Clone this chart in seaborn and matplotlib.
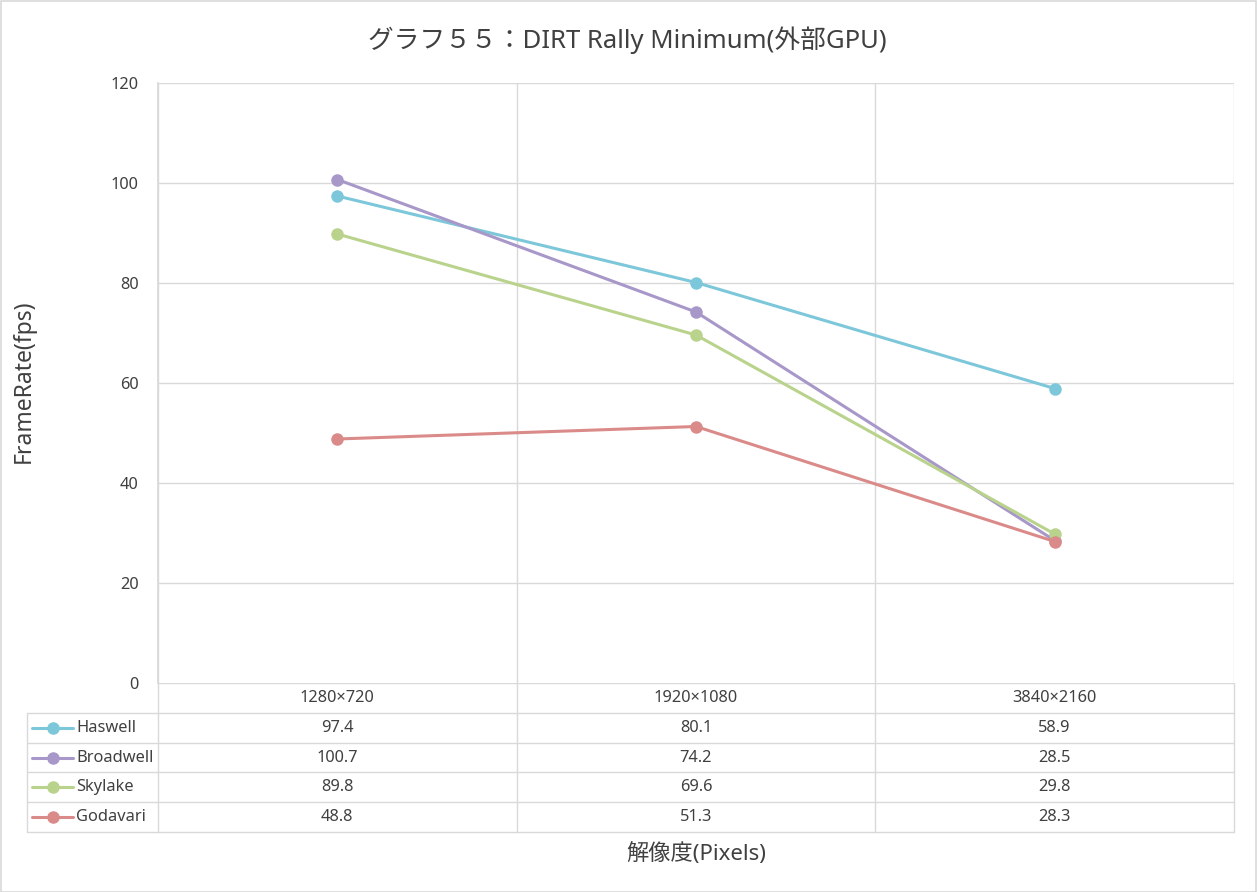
import pandas as pd
import seaborn as sns
import matplotlib.pyplot as plt
from matplotlib.patches import Rectangle

# chart data
resolutions = ['1280×720', '1920×1080', '3840×2160']
cpus = ['Haswell', 'Broadwell', 'Skylake', 'Godavari']
haswell = [97.4, 80.1, 58.9]
broadwell = [100.7, 74.2, 28.5]
skylake = [89.8, 69.6, 29.8]
godavari = [48.8, 51.3, 28.3]
colors = ['#7DC7DA', '#A897C9', '#B9D38C', '#DA8B89']

y_ticks = [0, 20, 40, 60, 80, 100, 120]

df = pd.DataFrame({
    'res': resolutions * 4,
    'cpu': [c for c in cpus for _ in resolutions],
    'fps': haswell + broadwell + skylake + godavari,
})

sns.set_theme(style='white')
plt.rcParams['font.family'] = ['Noto Sans', 'Noto Sans CJK JP', 'DejaVu Sans']

W, H = 1257, 892
fig = plt.figure(figsize=(W / 100, H / 100), dpi=100)
grid_c = '#D9D9D9'
text_c = '#404040'
fs = 11.8

# plot area in pixels
px0, px1, py0, py1 = 158, 1234, 83, 683
ax = fig.add_axes([px0 / W, 1 - py1 / H, (px1 - px0) / W, (py1 - py0) / H])

sns.lineplot(data=df, x='res', y='fps', hue='cpu', palette=colors,
             marker='o', markersize=9, markeredgewidth=0, linewidth=2.2,
             sort=False, legend=False, ax=ax)

ax.set_xlim(-0.5, 2.5)
ax.set_ylim(0, 120)
ax.set_yticks(y_ticks)
ax.set_yticklabels([str(t) for t in y_ticks], fontsize=fs, color=text_c)
ax.tick_params(axis='y', length=0, pad=14)
ax.set_xticks([])
ax.set_xlabel('')
ax.set_ylabel('')
for t in y_ticks[1:]:
    ax.axhline(t, color=grid_c, lw=1, zorder=0)
for xb in [-0.5, 0.5, 1.5, 2.5]:
    ax.axvline(xb, color=grid_c, lw=1, zorder=0)
for s in ax.spines.values():
    s.set_visible(False)
ax.spines['left'].set_visible(True)
ax.spines['left'].set_color(grid_c)

# data table below the plot
tx0, ty1 = 27, 832
unit = (px1 - px0) / 3
tax = fig.add_axes([tx0 / W, 1 - ty1 / H, (px1 - tx0) / W, (ty1 - py1) / H])
left = -0.5 - (px0 - tx0) / unit
tax.set_xlim(left, 2.5)
tax.set_ylim(5, 0)
tax.axis('off')

# header row
tax.plot([-0.5, 2.5], [0, 0], color=grid_c, lw=1)
for i, r in enumerate(resolutions):
    tax.text(i, 0.5, r, ha='center', va='center', fontsize=fs, color=text_c)
for k in range(1, 6):
    tax.plot([left, 2.5], [k, k], color=grid_c, lw=1, clip_on=False)
for xb in [-0.5, 0.5, 1.5, 2.5]:
    tax.plot([xb, xb], [0, 5], color=grid_c, lw=1, clip_on=False)
tax.plot([left, left], [1, 5], color=grid_c, lw=1, clip_on=False)

series = [haswell, broadwell, skylake, godavari]
for k, (name, vals, c) in enumerate(zip(cpus, series, colors)):
    yy = k + 1.5
    x_a = left + 5 / unit
    x_b = left + 46 / unit
    tax.plot([x_a, x_b], [yy, yy], color=c, lw=2.2, clip_on=False)
    tax.plot([(x_a + x_b) / 2], [yy], 'o', color=c, ms=8, mec=c, clip_on=False)
    tax.text(left + 49 / unit, yy, name, ha='left', va='center',
             fontsize=fs, color=text_c)
    for i, v in enumerate(vals):
        tax.text(i, yy, f'{v:.1f}', ha='center', va='center',
                 fontsize=fs, color=text_c)

fig.text(627 / W, 1 - 40 / H, 'グラフ５５：DIRT Rally Minimum(外部GPU)',
         ha='center', va='center', fontsize=18.5, color=text_c)
fig.text(24 / W, 1 - 381 / H, 'FrameRate(fps)', rotation=90,
         ha='center', va='center', fontsize=16.5, color=text_c)
fig.text(696 / W, 1 - 854 / H, '解像度(Pixels)', ha='center', va='center',
         fontsize=16, color=text_c)

fig.patches.append(Rectangle((0.5 / W, 0.5 / H), 1 - 1.5 / W, 1 - 1.5 / H,
                             transform=fig.transFigure, fill=False,
                             edgecolor='#D9D9D9', lw=1.2))

fig.savefig('out.png', dpi=100, facecolor='white')
